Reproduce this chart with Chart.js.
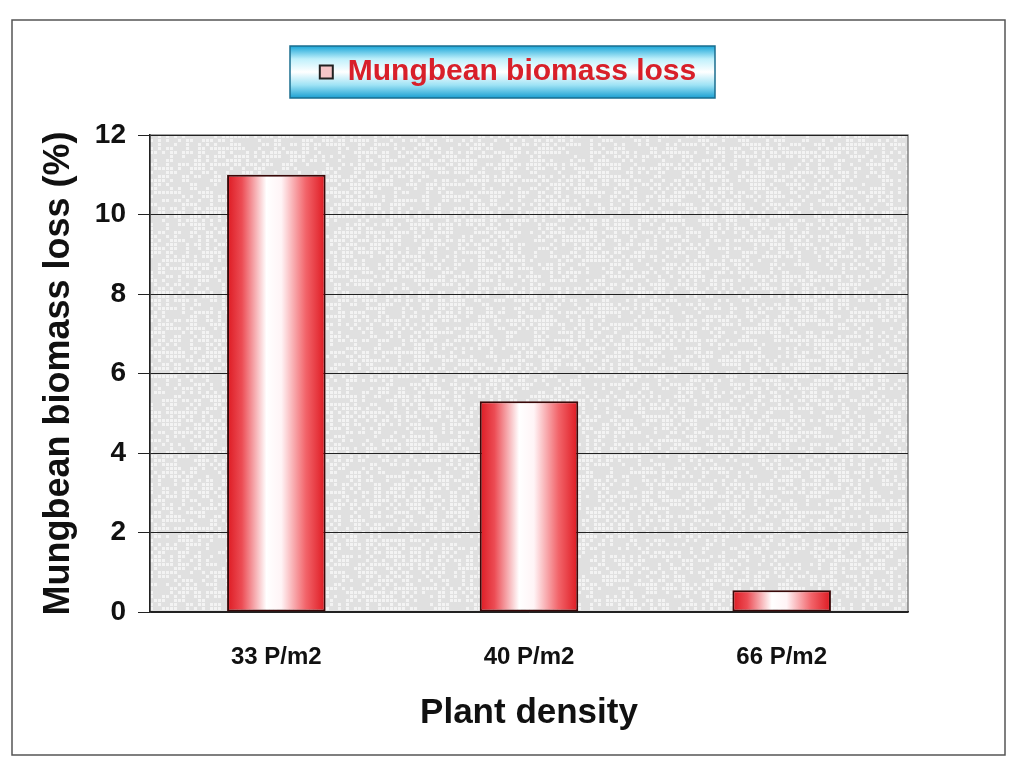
<!DOCTYPE html>
<html>
<head>
<meta charset="utf-8">
<script src="https://cdn.jsdelivr.net/npm/chart.js@4.4.1/dist/chart.umd.min.js"></script>
<style>
  html, body { margin: 0; padding: 0; background: #ffffff; }
  #wrap { width: 1016px; height: 761px; position: relative; }
</style>
</head>
<body>
<div id="wrap"><canvas id="c" width="1016" height="761"></canvas></div>
<script>
const categories = ['33 P/m2', '40 P/m2', '66 P/m2'];
const biomassLoss = [11.0, 5.3, 0.55];
const seriesName = 'Mungbean biomass loss';
const yTicks = [0, 2, 4, 6, 8, 10, 12];
const yTitle = 'Mungbean biomass loss (%)';
const xTitle = 'Plant density';

const FONT = "'Liberation Sans', Arial, sans-serif";
const BAR_PCT = 0.39;

function barGradient(ctx) {
  const chart = ctx.chart;
  const area = chart.chartArea;
  if (!area || !chart.scales.x) return '#e0242c';
  const xs = chart.scales.x;
  const cx = xs.getPixelForValue(ctx.dataIndex);
  const w = (xs.width / categories.length) * BAR_PCT;
  const g = chart.ctx.createLinearGradient(cx - w / 2, 0, cx + w / 2, 0);
  g.addColorStop(0, '#dd1a22');
  g.addColorStop(0.15, '#ec4c54');
  g.addColorStop(0.4, '#ffffff');
  g.addColorStop(0.55, '#fff4f6');
  g.addColorStop(0.8, '#f2646a');
  g.addColorStop(1, '#de1820');
  return g;
}

const decor = {
  id: 'decor',
  beforeDraw(chart) {
    const c = chart.ctx;
    const a = chart.chartArea;
    c.save();
    // outer frame
    c.strokeStyle = '#555';
    c.lineWidth = 1.5;
    c.strokeRect(12, 20, 993, 735);
    // plot background
    c.fillStyle = '#e0e0e0';
    c.fillRect(a.left, a.top, a.right - a.left, a.bottom - a.top);
    // subtle deterministic speckle
    c.fillStyle = 'rgba(255,255,255,0.6)';
    for (let y = a.top; y < a.bottom; y += 4) {
      for (let x = a.left; x < a.right; x += 4) {
        const h = Math.sin(x * 12.9898 + y * 78.233) * 43758.5453;
        if (h - Math.floor(h) > 0.5) c.fillRect(x, y, 3, 3);
      }
    }
    c.strokeStyle = '#666';
    c.lineWidth = 1.2;
    c.strokeRect(a.left, a.top, a.right - a.left, a.bottom - a.top);
    // legend box
    const bx = 290, by = 46, bw = 425, bh = 52;
    const g = c.createLinearGradient(0, by, 0, by + bh);
    g.addColorStop(0, '#1aa6d8');
    g.addColorStop(0.25, '#bff0fb');
    g.addColorStop(0.5, '#ffffff');
    g.addColorStop(0.75, '#9fe3f5');
    g.addColorStop(1, '#1ba0d2');
    c.fillStyle = g;
    c.fillRect(bx, by, bw, bh);
    c.strokeStyle = '#1a6d8f';
    c.lineWidth = 1.5;
    c.strokeRect(bx, by, bw, bh);
    c.restore();
  }
};

new Chart(document.getElementById('c'), {
  type: 'bar',
  data: {
    labels: categories,
    datasets: [{
      label: seriesName,
      data: biomassLoss,
      backgroundColor: barGradient,
      borderColor: '#3a0808',
      borderWidth: 2,
      borderSkipped: false,
      barPercentage: BAR_PCT,
      categoryPercentage: 1.0
    }]
  },
  options: {
    responsive: false,
    animation: false,
    devicePixelRatio: 1,
    layout: { padding: { left: 20, right: 20, top: 45, bottom: 20 } },
    plugins: {
      tooltip: { enabled: false },
      legend: {
        display: true,
        position: 'top',
        labels: {
          color: '#d8202a',
          font: { family: FONT, size: 30, weight: 'bold' },
          boxWidth: 13,
          boxHeight: 13,
          padding: 12,
          generateLabels(chart) {
            return [{
              text: seriesName,
              fillStyle: '#f6c6c8',
              strokeStyle: '#222',
              lineWidth: 2,
              fontColor: '#d8202a',
              datasetIndex: 0,
              hidden: false
            }];
          }
        }
      }
    },
    scales: {
      x: {
        grid: { display: false, drawTicks: false },
        border: { display: true, color: '#222', width: 1.5 },
        ticks: {
          color: '#111',
          font: { family: FONT, size: 24, weight: 'bold' },
          padding: 31
        },
        title: {
          display: true,
          text: xTitle,
          color: '#111',
          font: { family: FONT, size: 35, weight: 'bold' },
          padding: { top: 10, bottom: 7 }
        },
        afterFit(scale) { scale.height = 129; }
      },
      xTop: {
        type: 'linear',
        position: 'top',
        display: true,
        grid: { display: false, drawTicks: false },
        border: { display: false },
        ticks: { display: false },
        afterFit(scale) { scale.height = 38; }
      },
      y: {
        min: 0,
        max: 12,
        afterBuildTicks(scale) { scale.ticks = yTicks.map(v => ({ value: v })); },
        grid: { color: '#222', lineWidth: 1, tickLength: 12, drawTicks: true, tickColor: '#222' },
        border: { display: true, color: '#222', width: 1.5 },
        ticks: {
          color: '#111',
          font: { family: FONT, size: 28, weight: 'bold' },
          padding: 12
        },
        title: {
          display: true,
          text: yTitle,
          color: '#111',
          font: { family: FONT, size: 36, weight: 'bold' },
          padding: { top: 17, bottom: 0 }
        },
        afterFit(scale) { scale.width = 130; }
      },
      yRight: {
        type: 'linear',
        position: 'right',
        display: true,
        grid: { display: false, drawTicks: false },
        border: { display: false },
        ticks: { display: false },
        afterFit(scale) { scale.width = 88; }
      }
    }
  },
  plugins: [decor]
});
</script>
</body>
</html>
